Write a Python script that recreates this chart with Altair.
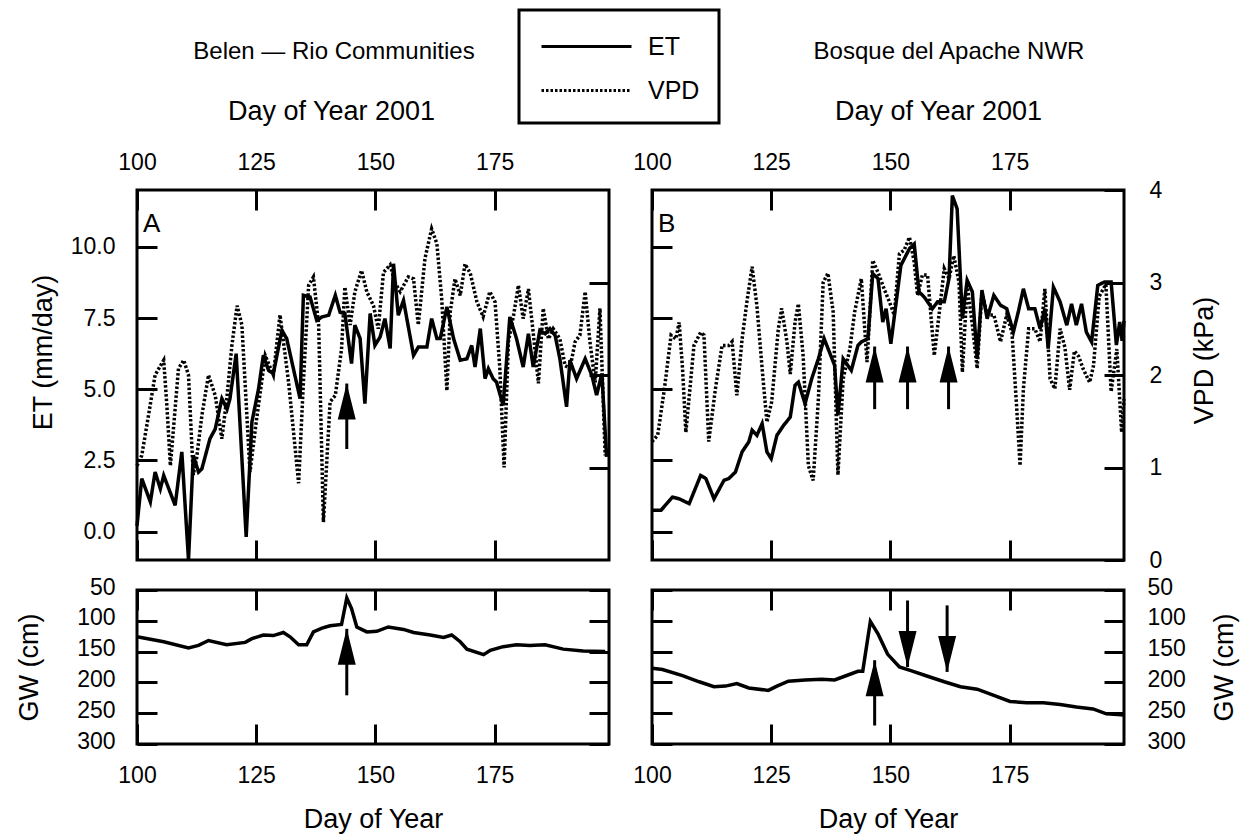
import altair as alt
import pandas as pd

FONT = "Liberation Sans"

# ---------------- Panel A : Belen - Rio Communities ----------------
a_et_day = [100.0, 101.0, 102.8, 103.8, 104.9, 105.6, 108.0, 109.4, 110.8, 111.8, 112.9, 113.6,
            115.3, 116.4, 117.8, 118.9, 119.5, 120.8, 122.9, 124.1, 125.5, 126.5, 127.6, 128.6,
            130.4, 131.4, 134.2, 134.9, 136.3, 137.7, 138.8, 140.2, 141.6, 142.6, 143.6, 145.0,
            145.7, 146.8, 147.8, 148.9, 149.9, 151.0, 152.0, 153.1, 153.8, 154.8, 155.9, 158.0,
            159.0, 160.8, 161.8, 162.9, 163.6, 165.0, 166.4, 167.8, 169.2, 170.2, 170.9, 172.0,
            173.0, 173.7, 174.7, 175.4, 176.8, 178.2, 179.6, 181.0, 182.1, 183.1, 184.5, 185.6,
            186.6, 187.7, 188.7, 190.1, 190.8, 192.2, 194.0, 195.4, 196.4, 197.5, 198.5]
a_et = [0.2, 1.86, 1.04, 2.09, 1.5, 1.97, 0.92, 2.8, -1.0, 2.68, 2.09, 2.2,
        3.26, 3.6, 4.67, 4.3, 4.67, 6.25, -0.19, 3.85, 5.02, 6.19, 5.66, 5.55,
        7.07, 6.78, 4.67, 8.3, 8.24, 7.42, 7.54, 7.6, 8.3, 7.7, 7.66, 5.9,
        7.25, 6.78, 4.49, 7.66, 6.54, 6.84, 7.48, 6.43, 9.41, 7.6, 8.12, 6.19,
        6.48, 6.48, 7.48, 6.78, 6.78, 7.89, 6.78, 6.02, 6.07, 6.54, 5.78, 7.13,
        5.37, 5.72, 5.37, 5.25, 4.43, 7.54, 6.78, 5.78, 6.95, 5.78, 7.07, 6.95,
        7.13, 6.89, 6.07, 4.38, 6.02, 5.37, 6.07, 5.49, 4.79, 5.55, 2.62]

a_vpd_day = [100.0, 101.0, 102.4, 103.8, 105.6, 106.3, 107.0, 108.7, 109.8, 110.8, 111.8, 112.5,
             113.6, 115.0, 116.4, 117.8, 118.9, 119.9, 121.0, 122.0, 123.7, 125.1, 126.9, 128.6,
             130.0, 131.8, 133.9, 134.9, 136.0, 137.0, 138.1, 139.1, 140.5, 141.6, 142.9, 143.6,
             144.7, 145.7, 147.1, 148.2, 149.6, 150.6, 151.7, 153.1, 154.1, 155.2, 156.9, 158.0,
             159.0, 160.4, 161.8, 162.9, 163.9, 165.0, 165.7, 166.7, 167.8, 168.8, 169.9, 171.3,
             172.6, 174.0, 175.1, 176.1, 177.0, 177.9, 179.0, 180.0, 181.0, 182.1, 183.1, 184.2,
             185.2, 186.3, 187.3, 188.7, 189.8, 190.8, 191.9, 192.9, 194.0, 195.0, 196.1, 197.1,
             198.2]
a_vpd = [1.02, 1.13, 1.56, 2.0, 2.16, 1.64, 1.02, 2.07, 2.16, 2.0, 0.92, 1.1,
         1.56, 2.0, 1.78, 1.31, 1.78, 2.32, 2.75, 2.54, 0.95, 1.53, 2.21, 2.0,
         2.65, 1.92, 0.83, 1.92, 2.97, 3.06, 2.54, 0.41, 1.71, 1.78, 2.28, 2.95,
         2.54, 2.9, 3.13, 2.9, 2.75, 2.5, 3.11, 3.19, 3.0, 2.9, 3.06, 3.04,
         2.54, 3.26, 3.58, 3.42, 2.83, 1.83, 2.68, 3.04, 2.86, 3.2, 3.1, 2.79,
         2.63, 2.9, 2.79, 2.07, 1.0, 2.36, 2.65, 2.97, 2.61, 2.93, 2.46, 1.91,
         2.72, 2.39, 2.5, 2.39, 2.1, 2.07, 2.36, 2.43, 2.9, 2.36, 1.92, 2.72,
         1.13]

a_gw_day = [100.0, 105.6, 110.8, 112.9, 115.0, 118.8, 122.7, 124.1, 126.5, 128.6, 130.7, 132.1,
            133.9, 135.6, 137.0, 138.8, 140.5, 142.9, 144.0, 145.0, 146.1, 148.2, 150.3, 152.7,
            155.9, 158.0, 161.5, 164.3, 166.0, 167.8, 169.2, 172.7, 174.1, 176.8, 179.6, 182.4,
            185.6, 189.4, 193.6, 198.2]
a_gw = [126, 134, 144, 140, 132, 139, 135, 129, 123, 124, 119, 126,
        139, 139, 118, 112, 108, 106, 63, 80, 110, 118, 117, 110,
        114, 119, 123, 127, 123, 134, 146, 155, 148, 142, 139, 140,
        139, 146, 149, 150]

# ---------------- Panel B : Bosque del Apache NWR ----------------
b_et_day = [100.0, 101.9, 104.3, 105.7, 107.8, 110.2, 111.3, 113.0, 115.1, 116.1, 117.5, 118.9,
            120.3, 121.0, 122.0, 123.1, 124.1, 125.0, 126.2, 127.6, 129.0, 130.0, 130.7, 132.1,
            133.5, 134.9, 136.1, 138.3, 139.0, 140.1, 141.8, 143.2, 143.9, 145.3, 146.3, 147.4,
            148.4, 149.1, 150.1, 152.2, 154.0, 155.0, 156.0, 157.1, 158.8, 159.9, 161.3, 162.3,
            163.0, 164.0, 165.1, 166.1, 167.2, 168.2, 169.2, 170.3, 171.7, 173.1, 174.4, 175.8,
            176.9, 177.9, 179.0, 180.3, 181.4, 182.4, 183.1, 184.2, 185.6, 187.0, 188.0, 189.0,
            190.1, 191.1, 192.2, 193.5, 194.9, 196.3, 197.4, 198.1, 198.6, 199.0]
b_et = [0.75, 0.75, 1.21, 1.15, 0.98, 1.97, 1.86, 1.15, 1.8, 1.86, 2.09, 2.8,
        3.15, 3.56, 3.38, 3.79, 2.8, 2.56, 3.38, 3.73, 4.02, 5.14, 5.25, 4.49,
        5.37, 6.07, 6.78, 5.84, 4.08, 6.07, 5.66, 6.54, 6.66, 6.78, 9.06, 8.89,
        7.36, 7.83, 6.6, 9.35, 9.94, 10.1, 8.42, 8.24, 7.83, 8.07, 8.07, 8.89,
        11.8, 11.34, 7.48, 8.83, 8.42, 6.07, 8.48, 7.48, 8.3, 7.95, 7.83, 7.01,
        7.77, 8.53, 7.83, 7.83, 7.13, 7.83, 6.43, 8.59, 8.07, 7.25, 8.0, 7.25,
        8.0, 7.01, 6.66, 8.65, 8.77, 8.77, 6.55, 7.36, 6.7, 7.4]

b_vpd_day = [100.0, 101.2, 102.6, 104.0, 105.0, 105.7, 106.4, 107.1, 108.8, 110.2, 110.9, 111.9,
             113.3, 114.7, 116.1, 116.8, 117.8, 118.9, 119.9, 121.0, 122.0, 123.1, 124.1, 125.1,
             126.5, 127.2, 128.3, 129.0, 130.0, 130.7, 131.7, 132.8, 133.8, 134.9, 135.9, 136.9,
             138.0, 139.0, 140.1, 141.5, 142.5, 143.9, 145.1, 146.3, 147.4, 148.7, 149.8, 150.8,
             151.9, 152.9, 154.0, 155.0, 155.7, 156.7, 157.8, 159.2, 160.2, 161.3, 162.3, 163.3,
             164.4, 165.1, 166.1, 167.2, 168.2, 169.2, 170.3, 171.7, 173.1, 174.4, 175.5, 176.5,
             177.2, 177.9, 179.0, 180.3, 181.4, 182.4, 183.5, 184.5, 185.6, 186.6, 187.6, 188.6,
             189.5, 190.4, 191.8, 192.6, 193.8, 195.2, 196.3, 197.5, 198.5, 199.0]
b_vpd = [1.28, 1.35, 1.85, 2.43, 2.39, 2.57, 2.07, 1.38, 2.32, 2.46, 2.43, 1.28,
         1.85, 2.32, 2.32, 2.36, 1.78, 2.39, 2.79, 3.17, 2.75, 2.07, 1.49, 1.71,
         2.5, 2.72, 2.36, 2.01, 2.57, 2.77, 2.21, 1.02, 0.86, 1.74, 3.0, 3.1,
         2.68, 0.92, 1.96, 2.28, 2.68, 3.04, 2.14, 3.24, 3.11, 2.93, 2.79, 2.65,
         3.31, 3.35, 3.49, 3.22, 2.86, 3.08, 3.08, 2.21, 2.65, 3.15, 3.04, 3.29,
         3.0, 2.03, 2.97, 2.54, 2.07, 2.9, 2.65, 2.65, 2.36, 2.65, 2.46, 1.64,
         1.02, 1.85, 2.5, 2.5, 2.36, 2.93, 1.96, 1.85, 2.5, 2.3, 1.84, 2.26,
         2.2, 2.07, 1.92, 2.1, 2.85, 2.98, 1.82, 2.28, 1.38, 1.74]

b_gw_day = [100.0, 102.2, 106.4, 109.9, 113.0, 115.4, 117.8, 120.3, 124.4, 126.2, 128.6, 132.1,
            135.6, 138.3, 140.4, 143.2, 144.2, 145.8, 147.4, 149.4, 151.9, 154.3, 157.8, 161.3,
            164.7, 168.2, 171.7, 175.1, 178.6, 182.1, 185.6, 189.0, 192.5, 195.3, 197.7, 199.0]
b_gw = [177, 179, 189, 199, 207, 206, 202, 209, 213, 206, 198, 196,
        195, 196, 190, 182, 182, 101, 121, 154, 175, 181, 190, 199,
        207, 211, 221, 231, 233, 233, 236, 240, 243, 251, 252, 253]

# ---------------- Arrows (day, tip value, tail value, direction) ----------------
a_top_arrow_day = [144.0]
a_top_arrow_tip = [5.2]
a_top_arrow_tail = [2.9]
a_top_arrow_dir = ["up"]

b_top_arrow_day = [146.7, 153.6, 162.2]
b_top_arrow_tip = [6.5, 6.5, 6.5]
b_top_arrow_tail = [4.3, 4.3, 4.3]
b_top_arrow_dir = ["up", "up", "up"]

a_gw_arrow_day = [144.0]
a_gw_arrow_tip = [113]
a_gw_arrow_tail = [221]
a_gw_arrow_dir = ["up"]

b_gw_arrow_day = [146.7, 153.6, 161.9]
b_gw_arrow_tip = [164, 175, 183]
b_gw_arrow_tail = [270, 67, 75]
b_gw_arrow_dir = ["up", "down", "down"]

# ---------------- Ticks / labels ----------------
x_ticks = [100, 125, 150, 175]
et_ticks = [0, 2.5, 5, 7.5, 10]
vpd_ticks = [0, 1, 2, 3, 4]
vpd_minor = [1, 2, 3]
gw_ticks = [50, 100, 150, 200, 250, 300]
series_names = ["ET", "VPD"]

# ---------------- Scales ----------------
xs = alt.Scale(domain=[100, 199], nice=False, zero=False)
et_scale = alt.Scale(domain=[-1, 12], nice=False, zero=False)
vpd_scale = alt.Scale(domain=[0, 4], nice=False, zero=False)
gw_scale = alt.Scale(domain=[50, 300], reverse=True, nice=False, zero=False)
dash_scale = alt.Scale(domain=series_names, range=[[1, 0], [2.5, 2]])
shape_scale = alt.Scale(domain=["up", "down"],
                        range=["M0,0L0.5,2L-0.5,2Z", "M0,0L0.5,-2L-0.5,-2Z"])

W, H_TOP, H_BOT = 472, 370, 154
TITLE_FS = 27

dash_legend = alt.Legend(
    title=None, orient="none", legendX=382, legendY=-180,
    symbolType="M-0.875,0H4.75", symbolSize=1024, symbolStrokeWidth=3,
    symbolStrokeColor="black", labelFontSize=25, labelFont=FONT,
    labelColor="black", labelOffset=75, padding=19, rowPadding=13,
    strokeColor="black",
)


def ax(orient, values, labels=False, pad=0, **kw):
    d = dict(orient=orient, values=values, tickSize={"expr": "-20"}, tickWidth=3,
             tickColor="black", domain=False, grid=False, labels=labels,
             labelFontSize=23, labelFont=FONT, labelColor="black",
             labelPadding=pad, labelFlush=False, titleFont=FONT,
             titleFontSize=TITLE_FS, titleFontWeight="normal", titleColor="black")
    d.update(kw)
    if "title" not in d:
        d["title"] = None
    return alt.Axis(**d)


def arrows(day, tip, tail, direction, yscale, xaxis, yaxis):
    df = pd.DataFrame({"day": day, "tip": tip, "tail": tail, "dir": direction})
    base = alt.Chart(df)
    shaft = base.mark_rule(color="black", strokeWidth=3).encode(
        x=alt.X("day:Q", scale=xs, axis=xaxis),
        y=alt.Y("tail:Q", scale=yscale, axis=yaxis),
        y2="tip:Q",
    )
    head = base.mark_point(filled=True, color="black", opacity=1, size=1296,
                           strokeWidth=0).encode(
        x=alt.X("day:Q", scale=xs, axis=xaxis),
        y=alt.Y("tip:Q", scale=yscale, axis=yaxis),
        shape=alt.Shape("dir:N", scale=shape_scale, legend=None),
    )
    return shaft, head


def top_panel(et_day, et_val, vpd_day, vpd_val, arr, letter, site, site_dx,
              xtitle_x, left_axis, right_axis):
    et_df = pd.DataFrame({"day": et_day, "value": et_val,
                          "series": [series_names[0]] * len(et_day)})
    vpd_df = pd.DataFrame({"day": vpd_day, "value": vpd_val,
                           "series": [series_names[1]] * len(vpd_day)})
    x_top = ax("top", x_ticks, labels=True, pad=41, labelBaseline="alphabetic",
               title="Day of Year 2001", titleX=xtitle_x, titleY=-71,
               titleBaseline="alphabetic", titleAlign="center", titleAngle=0)
    et_line = alt.Chart(et_df).mark_line(color="black", strokeWidth=3.5).encode(
        x=alt.X("day:Q", scale=xs, axis=x_top),
        y=alt.Y("value:Q", scale=et_scale, axis=left_axis),
        strokeDash=alt.StrokeDash("series:N", scale=dash_scale, legend=dash_legend),
    )
    shaft, head = arrows(*arr, et_scale, x_top, left_axis)
    letter_df = pd.DataFrame({"label": [letter]})
    txt = alt.Chart(letter_df).mark_text(
        align="left", baseline="alphabetic", fontSize=26, font=FONT, color="black"
    ).encode(x=alt.value(6), y=alt.value(42), text="label:N")
    inner = alt.layer(et_line, shaft, head, txt)
    vpd_line = alt.Chart(vpd_df).mark_line(color="black", strokeWidth=3.5).encode(
        x=alt.X("day:Q", scale=xs, axis=ax("bottom", x_ticks)),
        y=alt.Y("value:Q", scale=vpd_scale, axis=right_axis),
        strokeDash=alt.StrokeDash("series:N", scale=dash_scale, legend=dash_legend),
    )
    return alt.layer(inner, vpd_line).resolve_scale(y="independent").resolve_axis(
        x="independent", y="independent"
    ).properties(
        width=W, height=H_TOP,
        title=alt.TitleParams(site, fontSize=24, font=FONT, fontWeight="normal",
                              color="black", anchor="middle", dx=site_dx, offset=33),
    )


def bottom_panel(gw_day, gw_val, arr, left_axis, right_axis):
    gw_df = pd.DataFrame({"day": gw_day, "value": gw_val})
    x_bot = ax("bottom", x_ticks, labels=True, pad=40, title="Day of Year",
               titleX=W / 2, titleY=83, titleBaseline="alphabetic",
               titleAlign="center", titleAngle=0)
    gw_line = alt.Chart(gw_df).mark_line(color="black", strokeWidth=3.5).encode(
        x=alt.X("day:Q", scale=xs, axis=x_bot),
        y=alt.Y("value:Q", scale=gw_scale, axis=left_axis),
    )
    shaft, head = arrows(*arr, gw_scale, ax("top", x_ticks), right_axis)
    return alt.layer(gw_line, alt.layer(shaft, head)).resolve_axis(
        x="independent", y="independent"
    ).properties(width=W, height=H_BOT)


topA = top_panel(
    a_et_day, a_et, a_vpd_day, a_vpd,
    (a_top_arrow_day, a_top_arrow_tip, a_top_arrow_tail, a_top_arrow_dir),
    "A", "Belen \u2014 Rio Communities", -39, 194,
    ax("left", et_ticks, labels=True, pad=42, format=".1f", title="ET (mm/day)",
       titleX=-94, titleY=162, titleAngle=270, titleAlign="center",
       titleBaseline="middle"),
    ax("right", vpd_minor),
)
topB = top_panel(
    b_et_day, b_et, b_vpd_day, b_vpd,
    (b_top_arrow_day, b_top_arrow_tip, b_top_arrow_tail, b_top_arrow_dir),
    "B", "Bosque del Apache NWR", 61, 286,
    ax("left", et_ticks),
    ax("right", vpd_ticks, labels=True, pad=45, format="d", title="VPD (kPa)",
       titleX=80, titleY=170, titleAngle=270, titleAlign="center",
       titleBaseline="middle"),
)
botA = bottom_panel(
    a_gw_day, a_gw,
    (a_gw_arrow_day, a_gw_arrow_tip, a_gw_arrow_tail, a_gw_arrow_dir),
    ax("left", gw_ticks, labels=True, pad=42, format="d", labelOffset=-3,
       title="GW (cm)", titleX=-108, titleY=H_BOT / 2, titleAngle=270,
       titleAlign="center", titleBaseline="middle"),
    ax("right", gw_ticks),
)
botB = bottom_panel(
    b_gw_day, b_gw,
    (b_gw_arrow_day, b_gw_arrow_tip, b_gw_arrow_tail, b_gw_arrow_dir),
    ax("left", gw_ticks),
    ax("right", gw_ticks, labels=True, pad=43, format="d", labelOffset=-3,
       title="GW (cm)", titleX=100, titleY=H_BOT / 2, titleAngle=270,
       titleAlign="center", titleBaseline="middle"),
)

chart = alt.concat(
    topA, topB, botA, botB, columns=2,
    spacing={"row": 30, "column": 43}, bounds="flush",
).resolve_scale(strokeDash="shared", shape="shared").configure_view(
    stroke="black", strokeWidth=3
).configure_legend(strokeWidth=3).properties(
    padding={"left": 5, "top": 0, "right": 5, "bottom": 2},
    background="white",
)

chart.save("out.html", embed_options={"renderer": "svg", "actions": False})
